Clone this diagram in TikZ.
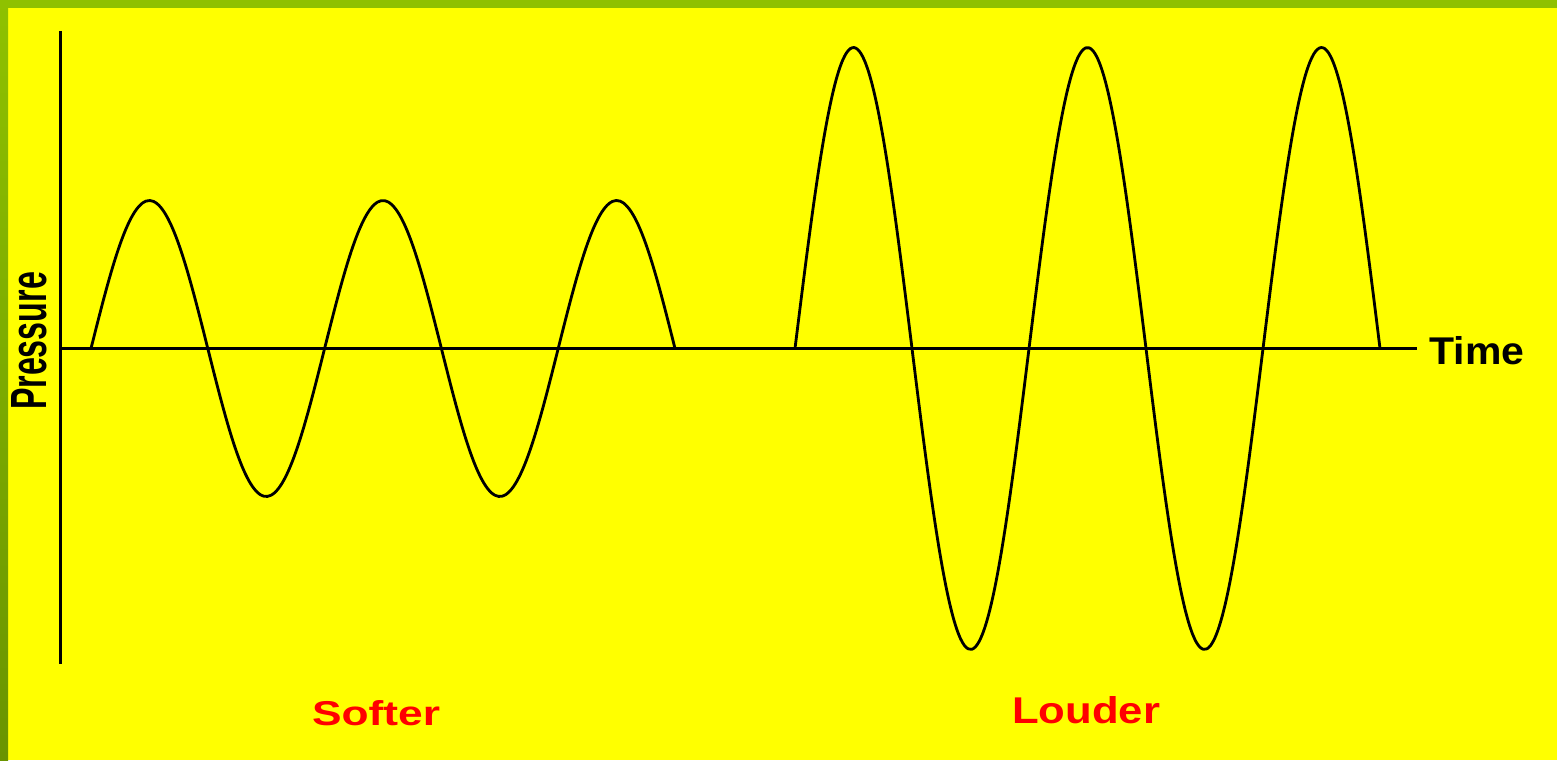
\documentclass[tikz,border=0pt]{standalone}
\usepackage{fontspec}
\setsansfont{Liberation Sans}
\usepackage{tikz}
\usetikzlibrary{positioning}
\definecolor{paper}{HTML}{FFFF00}
\definecolor{rimtop}{HTML}{8FC100}
\definecolor{rimbot}{HTML}{6A9400}
\definecolor{loud}{HTML}{FF0000}

\begin{document}
\begin{tikzpicture}[x=0.02cm, y=-0.02cm,
  axis/.style={line width=1.7pt},
  wave/.style={line width=1.6pt, line join=round},
  lab/.style={font=\sffamily\bfseries, inner sep=0pt},
  redlab/.style={lab, text=loud}]
  % background and rim
  \fill[paper] (0,0) rectangle (1557,760);
  \useasboundingbox (0,0) rectangle (1557,760);
  \fill[rimtop] (0,0) rectangle (1557,8);
  \shade[top color=rimtop, bottom color=rimbot] (0,0) rectangle (8,760);
  % axes
  \coordinate (top) at (60.5,31);
  \coordinate (bot) at (60.5,664);
  \coordinate (O) at (60.5,348.5);
  \coordinate (end) at (1417,348.5);
  \draw[axis] (top) -- (bot);
  \draw[axis] (O) -- (end);
  \node[lab, anchor=west, font=\sffamily\bfseries\fontsize{22}{22}\selectfont, xscale=1.06] (time) at (1429,351) {Time};
  \node[lab, rotate=90] (pres) at (29.5,341) {\resizebox{2.76cm}{0.7cm}{Pressure}};
  % softer wave
  \draw[wave] plot[domain=91:675, samples=160, smooth] (\x, {348.5 - 148*sin((\x-91)/233.6*360)});
  % louder wave
  \draw[wave] plot[domain=795:1380, samples=160, smooth] (\x, {348.5 - 301*sin((\x-795)/234*360)});
  \node[redlab] (soft) at (376,713) {\resizebox{2.56cm}{0.5cm}{Softer}};
  \node[redlab] (louder) at (1086,710) {\resizebox{2.96cm}{0.54cm}{Louder}};
\end{tikzpicture}
\end{document}
